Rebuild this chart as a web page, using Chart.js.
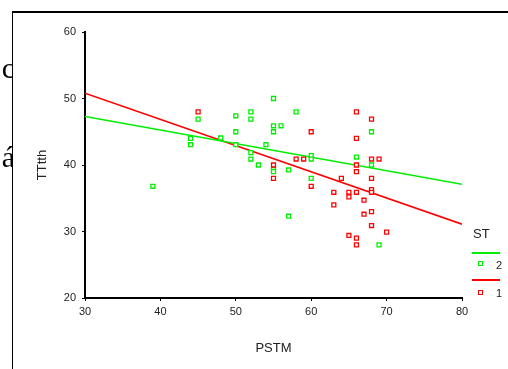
<!DOCTYPE html>
<html>
<head>
<meta charset="utf-8">
<script src="https://cdn.jsdelivr.net/npm/chart.js@4/dist/chart.umd.min.js"></script>
<style>
  html, body { margin: 0; padding: 0; background: #fff; }
  #wrap { position: relative; width: 508px; height: 369px; overflow: hidden; font-family: "Liberation Sans", Arial, sans-serif; }
  #chartCanvas { position: absolute; left: 0; top: 0; }
  .frameTop { position: absolute; left: 12px; top: 11px; width: 496px; height: 2px; background: #000; }
  .frameLeft { position: absolute; left: 12px; top: 11px; width: 1px; height: 358px; background: #000; }
  .clip { position: absolute; left: 0; width: 12px; height: 40px; overflow: hidden; }
  .clip span { position: absolute; right: -3px; font-family: "Liberation Serif", serif; font-size: 30px; color: #000; }
  #legend { position: absolute; left: 466px; top: 226px; width: 42px; font-size: 11px; color: #222; }
  #legend .ttl { position: absolute; left: 7px; top: 0; font-size: 13px; }
  #legend .ln { position: absolute; left: 6px; width: 28px; height: 2px; }
  #legend .mk { position: absolute; left: 12px; width: 3px; height: 3px; border: 1px solid; background: #fff; }
  #legend .lb { position: absolute; left: 30px; }
</style>
</head>
<body>
<div id="wrap">
  <canvas id="chartCanvas" width="508" height="369"></canvas>
  <div class="clip" style="top:51px;"><span style="top:0px;">c</span></div>
  <div class="clip" style="top:140px;"><span style="top:0px;">á</span></div>
  <div class="frameTop"></div>
  <div class="frameLeft"></div>
  <div id="legend">
    <div class="ttl">ST</div>
    <div class="ln" style="top:26px;background:#00ee00;"></div>
    <div class="mk" style="top:35px;border-color:#00ee00;"></div>
    <div class="lb" style="top:33px;">2</div>
    <div class="ln" style="top:53px;background:#ff0000;"></div>
    <div class="mk" style="top:64px;border-color:#ff0000;"></div>
    <div class="lb" style="top:61px;">1</div>
  </div>
</div>
<script>
// group 2 (green)
const st2X = [39, 45, 44, 44, 48, 50, 50, 50, 52, 52, 52, 52, 53, 54, 55, 55, 55, 56, 55, 55, 57, 57, 58, 60, 60, 60, 66, 68, 68, 69];
const st2Y = [36.8, 46.9, 44.0, 43.05, 44.06, 47.4, 45.0, 43.05, 48.0, 46.9, 41.85, 40.9, 40.0, 43.05, 50.0, 45.9, 45.0, 45.9, 39.3, 39.0, 39.25, 32.3, 48.0, 41.4, 40.9, 38.0, 41.2, 45.0, 40.0, 28.0];
// group 1 (red)
const st1X = [45, 55, 55, 58, 59, 60, 60, 64, 63, 63, 65, 65, 65, 66, 66, 66, 66, 66, 66, 66, 67, 67, 68, 68, 68, 68, 68, 68, 68, 69, 70];
const st1Y = [48.0, 40.0, 38.0, 40.9, 40.9, 45.0, 36.8, 38.0, 35.9, 34.0, 35.9, 35.2, 29.4, 48.0, 44.0, 40.0, 39.0, 35.9, 29.0, 28.0, 34.7, 32.6, 46.9, 40.9, 38.0, 36.3, 35.9, 33.0, 30.9, 40.9, 29.9];
// fit lines, end points
const fitX = [30, 80];
const fit2Y = [47.3, 37.1];
const fit1Y = [50.8, 31.1];
const xTicks = [30, 40, 50, 60, 70, 80];
const yTicks = [20, 30, 40, 50, 60];

const GREEN = '#00ee00';
const RED = '#ff0000';

function pts(xs, ys) {
  return xs.map((x, i) => ({ x: x, y: ys[i] }));
}

const tickFont = { family: '"Liberation Sans", Arial, sans-serif', size: 11 };
const titleFont = { family: '"Liberation Sans", Arial, sans-serif', size: 13 };

new Chart(document.getElementById('chartCanvas').getContext('2d'), {
  type: 'scatter',
  data: {
    datasets: [
      {
        type: 'line', data: pts(fitX, fit1Y), borderColor: RED, borderWidth: 1.6,
        pointRadius: 0, fill: false, order: 3
      },
      {
        type: 'line', data: pts(fitX, fit2Y), borderColor: GREEN, borderWidth: 1.6,
        pointRadius: 0, fill: false, order: 2
      },
      {
        data: pts(st2X, st2Y), pointStyle: 'rect', pointRadius: 2.8, borderWidth: 1.3,
        borderColor: GREEN, backgroundColor: '#fff', order: 1
      },
      {
        data: pts(st1X, st1Y), pointStyle: 'rect', pointRadius: 2.8, borderWidth: 1.3,
        borderColor: RED, backgroundColor: '#fff', order: 0
      }
    ]
  },
  options: {
    responsive: false,
    animation: false,
    layout: { padding: { left: 0, right: 46, top: 32, bottom: 0 } },
    plugins: { legend: { display: false }, tooltip: { enabled: false } },
    scales: {
      x: {
        type: 'linear', min: 30, max: 80,
        afterBuildTicks: s => { s.ticks = xTicks.map(v => ({ value: v })); },
        afterFit: s => { s.height = 71; },
        border: { display: true, color: '#000', width: 2 },
        grid: { drawOnChartArea: false, drawTicks: true, tickLength: 3, color: '#000' },
        ticks: { color: '#222', font: tickFont, padding: 4, maxRotation: 0 },
        title: { display: true, text: 'PSTM', color: '#222', font: titleFont, padding: { top: 0, bottom: 13 } }
      },
      y: {
        type: 'linear', min: 20, max: 60,
        afterBuildTicks: s => { s.ticks = yTicks.map(v => ({ value: v })); },
        afterFit: s => { s.width = 85; },
        border: { display: true, color: '#000', width: 2 },
        grid: { drawOnChartArea: false, drawTicks: true, tickLength: 3, color: '#000' },
        ticks: { color: '#222', font: tickFont, padding: 6 },
        title: { display: true, text: 'TTtth', color: '#222', font: titleFont, padding: { top: 35, bottom: 0 } }
      }
    }
  }
});
</script>
</body>
</html>
